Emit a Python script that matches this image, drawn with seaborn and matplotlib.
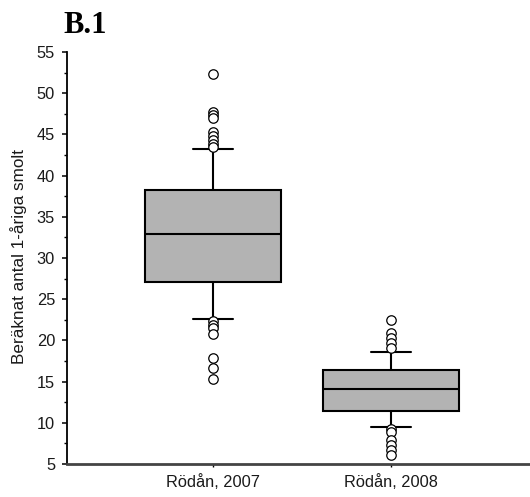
import matplotlib
matplotlib.use("Agg")
import matplotlib.pyplot as plt
import numpy as np
import pandas as pd
import seaborn as sns
from matplotlib.ticker import MultipleLocator

# Sites on the x axis
sites = ["Rödån, 2007", "Rödån, 2008"]

# Box summaries per site (whisker ends, quartiles, median)
whisker_low = [22.6, 9.5]
q1 = [27.05, 11.45]
median = [32.9, 14.1]
q3 = [38.3, 16.4]
whisker_high = [43.2, 18.6]

# Values lying beyond the whiskers
outliers_2007 = [52.3, 47.75, 47.35, 46.95, 45.3, 44.8, 44.3, 43.8, 43.5,
                 22.3, 21.9, 21.5, 20.75, 17.85, 16.6, 15.3]
outliers_2008 = [22.5, 20.85, 20.25, 19.65, 19.05,
                 9.25, 8.9, 7.9, 7.3, 6.7, 6.15]

yticks = list(range(5, 60, 5))

sns.set_theme(style="white")
plt.rcParams["font.family"] = ["Liberation Sans", "DejaVu Sans"]

# Five-number table per site: with whiskers spanning 0-100 %, the quartiles
# and whisker ends of the drawn boxes are exactly these values.
box_rows = []
for i, s in enumerate(sites):
    for v in (whisker_low[i], q1[i], median[i], q3[i], whisker_high[i]):
        box_rows.append({"site": s, "value": v})
box_df = pd.DataFrame(box_rows)

out_df = pd.DataFrame(
    [{"site": sites[0], "value": v} for v in outliers_2007]
    + [{"site": sites[1], "value": v} for v in outliers_2008]
)

fig = plt.figure(figsize=(5.30, 4.97), dpi=100)
ax = fig.add_axes([67 / 530, 1 - 464 / 497, (530 - 67) / 530, (464 - 52) / 497])

sns.boxplot(
    data=box_df, x="site", y="value", order=sites, ax=ax,
    whis=(0, 100), width=0.76, color="#b3b3b3", saturation=1,
    linecolor="black", linewidth=1.5, fliersize=0, capwidths=0.225,
)
sns.stripplot(
    data=out_df, x="site", y="value", order=sites, ax=ax,
    jitter=False, size=6.8, color="white", edgecolor="black",
    linewidth=0.9, zorder=3,
)

ax.set_xlim(-0.82, 1.78)
ax.set_ylim(5, 55)
ax.set_yticks(yticks)
ax.yaxis.set_minor_locator(MultipleLocator(2.5))
ax.set_xlabel("")
ax.set_ylabel("")

for side in ("top", "right"):
    ax.spines[side].set_visible(False)
ax.spines["left"].set_color("black")
ax.spines["left"].set_linewidth(1.3)
ax.spines["bottom"].set_color("#444444")
ax.spines["bottom"].set_linewidth(2.0)

ax.tick_params(axis="y", which="major", left=True, length=3.6, width=1.1,
               color="black", pad=5, labelsize=11.8, labelcolor="#1a1a1a")
ax.tick_params(axis="y", which="minor", left=True, length=2, width=1.0,
               color="black")
ax.tick_params(axis="x", which="major", bottom=True, length=2, width=1.0,
               color="black", pad=5, labelsize=11.8, labelcolor="#1a1a1a")

fig.text(19 / 530, 1 - 256 / 497, "Beräknat antal 1-åriga smolt",
         rotation=90, ha="center", va="center", fontsize=12.3, color="#1a1a1a")
fig.text(63 / 530, 1 - 33 / 497, "B.1", ha="left", va="baseline",
         fontsize=22, fontweight="bold", family="Liberation Serif",
         color="black")

fig.savefig("out.png", dpi=100, facecolor="white")
